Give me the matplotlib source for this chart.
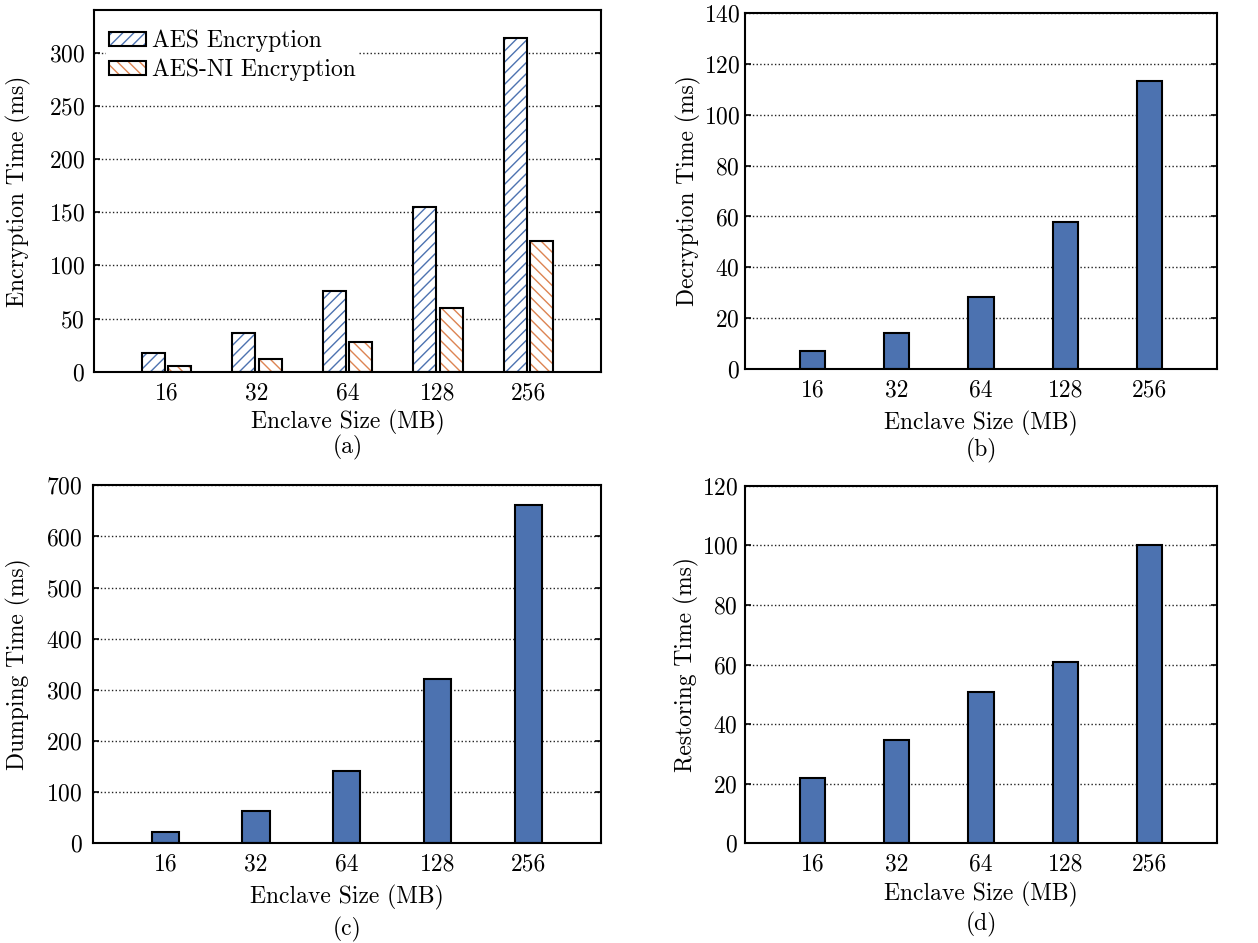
import matplotlib
matplotlib.use("Agg")
import matplotlib.pyplot as plt
from matplotlib.patches import Patch
from matplotlib.legend_handler import HandlerTuple
import numpy as np

# ---- data ----
sizes = ['16', '32', '64', '128', '256']
aes_enc = [18, 36, 75.5, 155, 314]
aesni_enc = [5.6, 12.2, 28, 59.6, 123]
decrypt = [7.3, 14.4, 28.3, 57.7, 113.3]
dump = [23, 64, 142, 322, 662]
restore = [21.8, 34.8, 50.8, 60.8, 100.2]

ylabels = ['Encryption Time (ms)', 'Decryption Time (ms)',
           'Dumping Time (ms)', 'Restoring Time (ms)']
captions = ['(a)', '(b)', '(c)', '(d)']
xlabel = 'Enclave Size (MB)'

# ---- style ----
plt.rcParams['font.family'] = ['cmr10', 'DejaVu Serif']
plt.rcParams['axes.formatter.use_mathtext'] = True
plt.rcParams['mathtext.fontset'] = 'cm'
plt.rcParams['hatch.linewidth'] = 1.0
FS = 17
BLUE = '#4C72B0'
ORANGE = '#DD8452'

W, H = 1258, 943
fig = plt.figure(figsize=(W / 100, H / 100), dpi=100)

def px_axes(l, t, r, b):
    return fig.add_axes([l / W, 1 - b / H, (r - l) / W, (b - t) / H])

boxes = [(94, 10, 601, 371.7), (745, 12.7, 1217, 369.3),
         (92.7, 485.3, 601, 843.3), (745, 485.7, 1217, 843.3)]
ylims = [340, 140, 700, 120]
ysteps = [50, 20, 100, 20]
ypads = [6.5, 3.6, 7.2, 5.0]
ylab_x = [18, 688, 18, 686]
xlab_off = [51, 54, 54, 51]
cap_off = [76, 81, 86, 81]

x = np.arange(len(sizes))
axes = []
for i, (l, t, r, b) in enumerate(boxes):
    ax = px_axes(l, t, r, b)
    axes.append(ax)
    ax.set_xlim(-0.8, 4.8)
    ax.set_ylim(0, ylims[i])
    ax.set_yticks(np.arange(0, ylims[i] + 1, ysteps[i]))
    ax.set_xticks(x)
    ax.set_xticklabels(sizes)
    ax.set_axisbelow(True)
    ax.yaxis.grid(True, linestyle=':', color='#222222', linewidth=1.0)
    for s in ax.spines.values():
        s.set_linewidth(1.5)
    ax.tick_params(axis='y', direction='in', left=True, right=True,
                   length=4, width=1.2, labelsize=FS, pad=ypads[i])
    ax.tick_params(axis='x', length=0, labelsize=FS, pad=7.5)
    ax.set_xlabel(xlabel, fontsize=FS)
    ax.xaxis.label.set_va('center')
    ax.xaxis.set_label_coords(0.5, -xlab_off[i] / (b - t))
    ax.set_ylabel(ylabels[i], fontsize=FS)
    ax.yaxis.label.set_va('center')
    ax.yaxis.set_label_coords(-(l - ylab_x[i]) / (r - l), 0.5)
    ax.annotate(captions[i], xy=(0.5, 0), xycoords='axes fraction',
                xytext=(0, -cap_off[i]), textcoords='offset pixels',
                ha='center', va='center', fontsize=FS)

# (a) grouped hatched bars
ax = axes[0]
bw = 0.255
off = 0.145
ax.bar(x - off, aes_enc, bw, facecolor='white', edgecolor=BLUE,
       hatch='///', linewidth=0, zorder=2)
ax.bar(x - off, aes_enc, bw, fill=False, edgecolor='black',
       linewidth=1.5, zorder=3)
ax.bar(x + off, aesni_enc, bw, facecolor='white', edgecolor=ORANGE,
       hatch='\\\\\\', linewidth=0, zorder=2)
ax.bar(x + off, aesni_enc, bw, fill=False, edgecolor='black',
       linewidth=1.5, zorder=3)

h1 = (Patch(facecolor='white', edgecolor=BLUE, hatch='///', linewidth=0),
      Patch(fill=False, edgecolor='black', linewidth=1.5))
h2 = (Patch(facecolor='white', edgecolor=ORANGE, hatch='\\\\\\', linewidth=0),
      Patch(fill=False, edgecolor='black', linewidth=1.5))
leg = ax.legend([h1, h2], ['AES Encryption', 'AES-NI Encryption'],
                handler_map={tuple: HandlerTuple(ndivide=1, pad=0)},
                loc='upper left', bbox_to_anchor=(0.0, 0.988),
                fontsize=FS, frameon=True,
                facecolor='white', edgecolor='none', framealpha=1,
                fancybox=False, handlelength=1.55, handleheight=0.55,
                handletextpad=0.25, labelspacing=0.28, borderpad=0.15,
                borderaxespad=0.5)
leg.set_zorder(5)

# (b)-(d) single bars
for ax, vals in zip(axes[1:], [decrypt, dump, restore]):
    ax.bar(x, vals, 0.30, color=BLUE, edgecolor='black', linewidth=1.5,
           zorder=2)

fig.savefig('out.png', dpi=100)
